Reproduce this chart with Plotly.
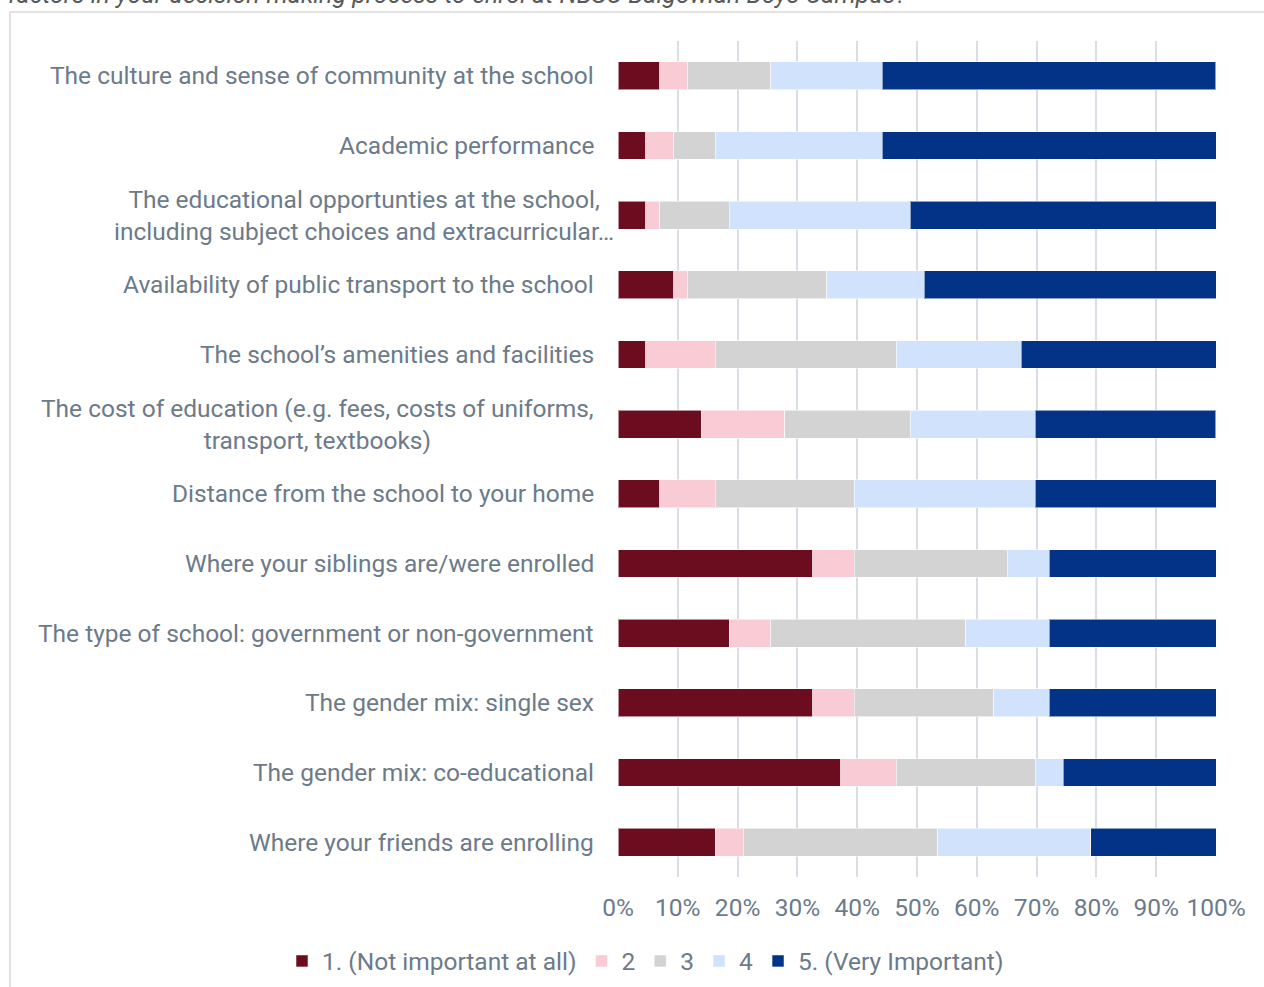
import plotly.graph_objects as go

# Survey factors, listed top to bottom as displayed
factors = [
    "The culture and sense of community at the school",
    "Academic performance",
    "The educational opportunties at the school,<br>including subject choices and extracurricular…",
    "Availability of public transport to the school",
    "The school’s amenities and facilities",
    "The cost of education (e.g. fees, costs of uniforms,<br>transport, textbooks)",
    "Distance from the school to your home",
    "Where your siblings are/were enrolled",
    "The type of school: government or non-government",
    "The gender mix: single sex",
    "The gender mix: co-educational",
    "Where your friends are enrolling",
]

# Share of responses (%) for each importance rating
rating_1 = [6.98, 4.65, 4.65, 9.30, 4.65, 13.95, 6.98, 32.56, 18.60, 32.56, 37.21, 16.28]
rating_2 = [4.65, 4.65, 2.33, 2.33, 11.63, 13.95, 9.30, 6.98, 6.98, 6.98, 9.30, 4.65]
rating_3 = [13.95, 6.98, 11.63, 23.26, 30.23, 20.93, 23.26, 25.58, 32.56, 23.26, 23.26, 32.56]
rating_4 = [18.60, 27.91, 30.23, 16.28, 20.93, 20.93, 30.23, 6.98, 13.95, 9.30, 4.65, 25.58]
rating_5 = [55.81, 55.81, 51.16, 48.84, 32.56, 30.23, 30.23, 27.91, 27.91, 27.91, 25.58, 20.93]

series_names = ["1. (Not important at all)", "2", "3", "4", "5. (Very Important)"]
series_values = [rating_1, rating_2, rating_3, rating_4, rating_5]
series_colors = ["#6b0c1f", "#f9cbd5", "#d3d3d3", "#d1e2fc", "#023387"]

x_ticks = list(range(0, 101, 10))

title_text = "factors in your decision-making process to enrol at NBSC Balgowlah Boys Campus?"

TEXT = "#6c7a8a"
FONT = "Roboto, Arial, sans-serif"
FS = 24.5

W, H = 1264, 987
L, R, T, B = 618, 48, 41, 110
PW, PH = W - L - R, H - T - B


def px_to_paper_x(px):
    return (px - L) / PW


def px_to_paper_y(py):
    return 1 - (py - T) / PH


fig = go.Figure()
for name, vals, color in zip(series_names, series_values, series_colors):
    fig.add_trace(go.Bar(
        y=factors,
        x=vals,
        name=name,
        orientation="h",
        marker=dict(color=color, line=dict(color="rgba(255,255,255,0.55)", width=1)),
        hoverinfo="x+y+name",
    ))

# Category labels as centred text blocks to the left of the bars
annotations = []
for f in factors:
    shift = 20 if f.startswith("The educational") else 0
    annotations.append(dict(
        x=px_to_paper_x(596), xref="paper", xanchor="right", xshift=shift,
        y=f, yref="y", yanchor="middle",
        text=f, showarrow=False, align="center",
        font=dict(family=FONT, size=FS, color=TEXT),
    ))

# Chart heading, sitting above the framed chart area
annotations.append(dict(
    x=px_to_paper_x(6), xref="paper", xanchor="left",
    y=px_to_paper_y(11), yref="paper", yanchor="bottom",
    text="<i>" + title_text + "</i>", showarrow=False,
    font=dict(family=FONT, size=25, color="#595959"),
))

fig.update_layout(
    width=W, height=H,
    margin=dict(l=L, r=R, t=T, b=B, autoexpand=False),
    barmode="stack",
    bargap=0.6,
    paper_bgcolor="white",
    plot_bgcolor="white",
    font=dict(family=FONT, size=FS, color=TEXT),
    xaxis=dict(
        range=[0, 100],
        tickvals=x_ticks,
        ticktext=[f"{v}%" for v in x_ticks],
        showgrid=True, gridcolor="#dadee4", gridwidth=1.5,
        zeroline=False, showline=False, ticks="",
        ticklabelstandoff=13,
        tickfont=dict(family=FONT, size=FS, color=TEXT),
        fixedrange=True,
    ),
    yaxis=dict(
        autorange="reversed",
        showticklabels=False, showgrid=False, zeroline=False, ticks="",
        fixedrange=True,
    ),
    legend=dict(
        orientation="h",
        traceorder="normal",
        xref="paper", yref="paper",
        x=px_to_paper_x(282), xanchor="left",
        y=px_to_paper_y(961), yanchor="middle",
        font=dict(family=FONT, size=FS, color=TEXT),
        itemclick=False, itemdoubleclick=False,
    ),
    annotations=annotations,
    shapes=[dict(
        type="rect", xref="paper", yref="paper",
        x0=px_to_paper_x(10), x1=px_to_paper_x(W + 20),
        y0=px_to_paper_y(12), y1=px_to_paper_y(H + 20),
        line=dict(color="#d9d9d9", width=1.5),
        fillcolor="rgba(0,0,0,0)", layer="below",
    )],
)

fig.write_html("out.html")
